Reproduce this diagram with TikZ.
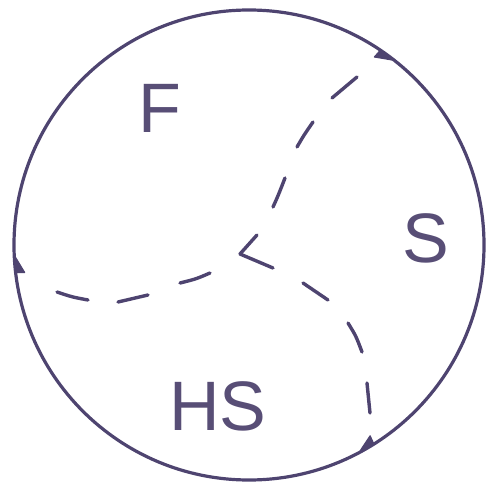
\documentclass[tikz,border=0pt]{standalone}
\usepackage{fontspec}
\setmainfont{Liberation Sans}
\definecolor{ink}{RGB}{78,68,112}
\definecolor{txt}{RGB}{88,78,118}
\tikzset{
  bound/.style={draw=ink, line width=1.6pt},
  cut/.style={draw=ink, line width=1.7pt, line cap=round},
  barb/.style={fill=ink, draw=ink, line width=0.6pt, line join=round},
  lab/.style={text=txt, font=\fontsize{35}{40}\selectfont, inner sep=0pt}
}
\begin{document}
\begin{tikzpicture}[x=0.5pt,y=-0.5pt]
\useasboundingbox (0,0) rectangle (498,492);
\coordinate (C) at (249,245);
\node[bound, circle, minimum size=235pt, inner sep=0pt] (circ) at (C) {};
% vertex
\coordinate (V) at (240,254);
% dashed cut towards top right
\draw[cut] (V) -- (257,235)
  (273,207) .. controls (278,196) .. (285,178)
  (297,147) .. controls (304,135) .. (313,122)
  (332,98) .. controls (344,87) .. (357,77);
% dashed cut towards bottom right
\draw[cut] (V) -- (273,268)
  (303,283) .. controls (316,291) .. (328,300)
  (348,323) .. controls (356,336) .. (362,352)
  (367,383) .. controls (369,398) .. (370,413);
% dashed cut towards left
\draw[cut] (210,273) .. controls (196,279) .. (180,283)
  (148,295) .. controls (133,299) .. (118,302)
  (88,300) .. controls (72,297) .. (57,292);
% harpoon barbs on the boundary (clockwise)
\begin{scope}[shift={(C)}]
  \coordinate (a1) at (-51.8:235); \coordinate (a2) at (-56:235); \coordinate (a3) at (-56.3:226);
  \coordinate (b1) at (62.1:235);  \coordinate (b2) at (57.9:235); \coordinate (b3) at (57.6:226);
  \coordinate (c1) at (177.5:235); \coordinate (c2) at (173.3:235); \coordinate (c3) at (173:226);
\end{scope}
\draw[barb] (a1) -- (a2) -- (a3) -- cycle;
\draw[barb] (b1) -- (b2) -- (b3) -- cycle;
\draw[barb] (c1) -- (c2) -- (c3) -- cycle;
% labels
\node[lab] (F) at (160,108) {F};
\node[lab] (S) at (426,238) {S};
\node[lab] (HS) at (218,406) {HS};
\end{tikzpicture}
\end{document}
